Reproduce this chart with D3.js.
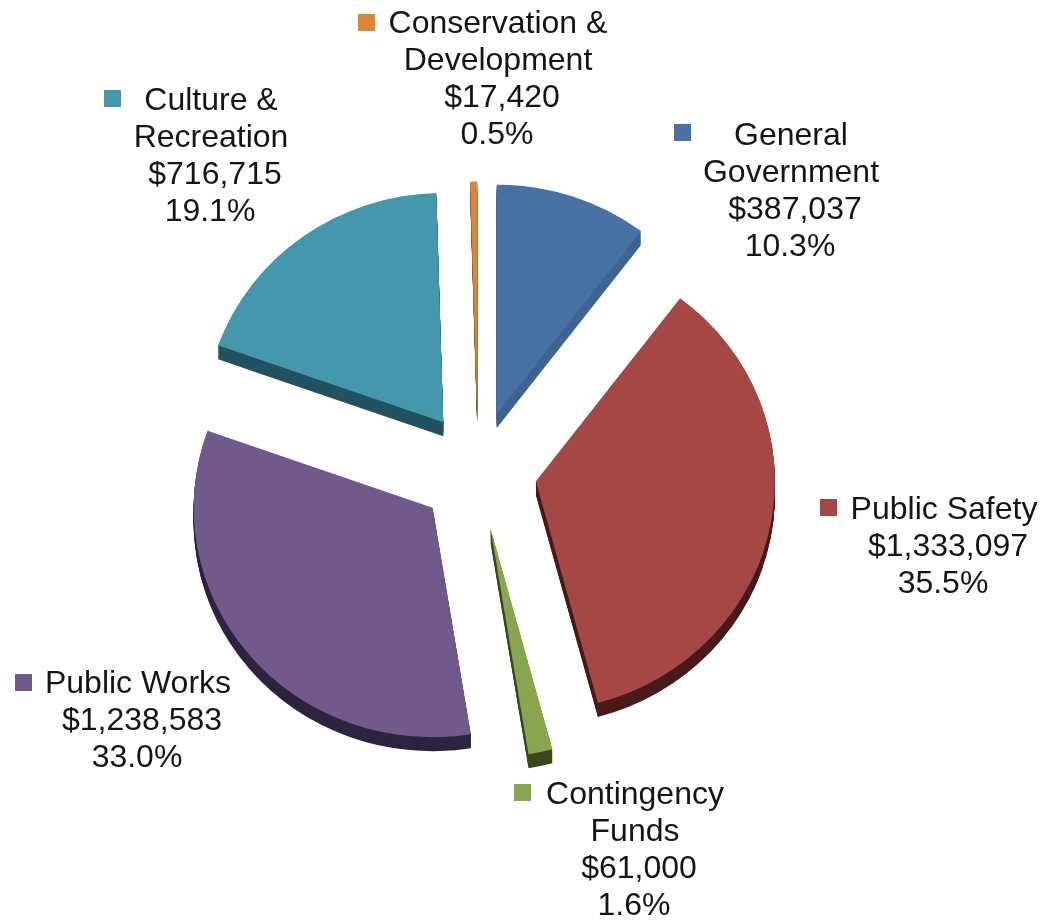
<!DOCTYPE html>
<html>
<head>
<meta charset="utf-8">
<script src="https://cdn.jsdelivr.net/npm/d3@7"></script>
<style>
  html, body { margin: 0; background: #fff; }
  svg { filter: blur(0.5px); }
  text { font-family: "Liberation Sans", Arial, sans-serif; font-size: 32px; fill: #151515; text-anchor: middle; }
</style>
</head>
<body>
<svg id="chart" width="1043" height="922"></svg>
<script>
// data, clockwise from 12 o'clock
const categories = ['General Government', 'Public Safety', 'Contingency Funds', 'Public Works', 'Culture & Recreation', 'Conservation & Development'];
const amounts = [387037, 1333097, 61000, 1238583, 716715, 17420];
const nameLines = [['General', 'Government'], ['Public Safety'], ['Contingency', 'Funds'], ['Public Works'], ['Culture &', 'Recreation'], ['Conservation &', 'Development']];

const topColors = ['#4871a4', '#a54745', '#88a550', '#71598b', '#4497ad', '#dc8538'];
const wallColors = ['#3e6592', '#4a1b19', '#3a4a1e', '#2e2440', '#22535f', '#8a5a2a'];

// hand placed labels: text centre, first baseline, legend key corner
const labelSpots = [
  { x: 791, y: 145, keyX: 674, keyY: 124 },
  { x: 944, y: 519, keyX: 820, keyY: 499 },
  { x: 635, y: 804, keyX: 514, keyY: 784 },
  { x: 138, y: 693, keyX: 15, keyY: 674 },
  { x: 211, y: 110, keyX: 104, keyY: 90 },
  { x: 498, y: 33, keyX: 358, keyY: 14 }
];

const svg = d3.select('#chart');
const cx = 478, cy = 470, radius = 239, tilt = 0.96, explode = 59, depth = 14, keySize = 17, lineGap = 37;
const moneyNudge = 4; // amount line sits a bit right of the others

const pie = d3.pie().sort(null).value(d => d);
const arc = d3.arc().innerRadius(0).outerRadius(radius);
const total = d3.sum(amounts);
const money = d3.format('$,');
const pct = d3.format('.1%');

const slices = svg.selectAll('g.slice').data(pie(amounts)).enter().append('g')
  .attr('class', 'slice')
  .attr('transform', d => {
    const mid = (d.startAngle + d.endAngle) / 2;
    return `translate(${cx + explode * Math.sin(mid)},${cy - explode * Math.cos(mid)})`;
  });

// side wall: the same wedge stacked downward
slices.each(function (d, i) {
  const g = d3.select(this);
  d3.range(depth, 0, -1).forEach(k => {
    g.append('path').attr('d', arc(d)).attr('transform', `translate(0,${k}) scale(1,${tilt})`).attr('fill', wallColors[i]);
  });
  g.append('path').attr('d', arc(d)).attr('transform', `scale(1,${tilt})`).attr('fill', topColors[i]);
});

const labels = svg.selectAll('g.label').data(categories).enter().append('g').attr('class', 'label');

labels.append('rect')
  .attr('x', (d, i) => labelSpots[i].keyX)
  .attr('y', (d, i) => labelSpots[i].keyY)
  .attr('width', keySize).attr('height', keySize)
  .attr('fill', (d, i) => topColors[i]);

labels.each(function (d, i) {
  const names = nameLines[i];
  const lines = [...names, money(amounts[i]), pct(amounts[i] / total)];
  d3.select(this).selectAll('text').data(lines).enter().append('text')
    .attr('x', (t, j) => labelSpots[i].x + (j === names.length ? moneyNudge : j === names.length + 1 ? -1 : 0))
    .attr('y', (t, j) => labelSpots[i].y + j * lineGap)
    .text(t => t);
});
</script>
</body>
</html>
